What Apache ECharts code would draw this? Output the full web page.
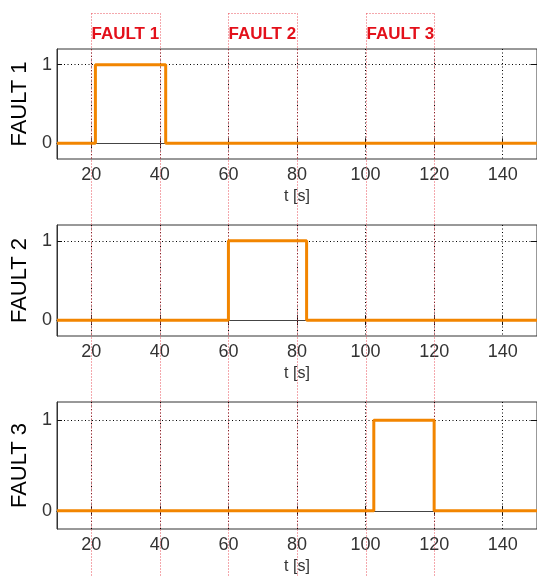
<!DOCTYPE html>
<html><head><meta charset="utf-8">
<script src="https://cdn.jsdelivr.net/npm/echarts@6/dist/echarts.min.js"></script>
<style>html,body{margin:0;padding:0;background:#fff}#c{width:537px;height:577px}</style>
</head><body><div id="c"></div>
<script>
// ---- data ----
const panelNames = ['FAULT 1', 'FAULT 2', 'FAULT 3'];
const fault1T = [10, 21.2, 21.2, 41.7, 41.7, 150];
const fault1V = [0, 0, 1, 1, 0, 0];
const fault2T = [10, 60, 60, 82.8, 82.8, 150];
const fault2V = [0, 0, 1, 1, 0, 0];
const fault3T = [10, 102.4, 102.4, 120, 120, 150];
const fault3V = [0, 0, 1, 1, 0, 0];
const xTicks = [20, 40, 60, 80, 100, 120, 140];
const yTicks = [0, 1];
const faultStart = [20, 60, 100];
const faultEnd = [40, 80, 120];
const faultLabels = ['FAULT 1', 'FAULT 2', 'FAULT 3'];
const xMin = 10, xMax = 150, yMin = -0.2, yMax = 1.2;
const xName = 't [s]';

// ---- layout/style ----
const FONT = 'Liberation Sans, Arial, sans-serif';
const gridPos = [{top: 49, height: 110}, {top: 225, height: 111}, {top: 402, height: 127}];
const series = [[fault1T, fault1V], [fault2T, fault2V], [fault3T, fault3V]];
const dotted = [1, 2.5];

const chart = echarts.init(document.getElementById('c'), null, {renderer: 'canvas'});
const grid = [], xAxis = [], yAxis = [], ser = [];
gridPos.forEach((g, i) => {
  grid.push({left: 57, right: 0, top: g.top, height: g.height, show: true,
    borderColor: '#333', borderWidth: 1, backgroundColor: 'transparent'});
  xAxis.push({type: 'value', gridIndex: i, min: xMin, max: xMax, position: 'bottom',
    axisLine: {show: true, lineStyle: {color: '#333', width: 1}},
    axisTick: {show: true, inside: true, length: 5, customValues: xTicks, lineStyle: {color: '#111'}},
    axisLabel: {show: true, customValues: xTicks, fontSize: 18, color: '#333', margin: 7, fontFamily: FONT},
    splitLine: {show: true, lineStyle: {color: '#000', width: 1, type: dotted}},
    name: xName, nameLocation: 'middle', nameGap: 30,
    nameTextStyle: {fontSize: 16, color: '#333', fontFamily: FONT}});
  xAxis.push({type: 'value', gridIndex: i, min: xMin, max: xMax, position: 'top',
    axisLine: {show: true, lineStyle: {color: '#444', width: 1}},
    axisTick: {show: true, inside: true, length: 5, customValues: xTicks, lineStyle: {color: '#111'}},
    axisLabel: {show: false}, splitLine: {show: false}});
  yAxis.push({type: 'value', gridIndex: i, min: yMin, max: yMax, position: 'left',
    axisLine: {show: true, lineStyle: {color: '#333', width: 1}},
    axisTick: {show: true, inside: true, length: 5, customValues: yTicks, lineStyle: {color: '#111'}},
    axisLabel: {show: true, customValues: yTicks, fontSize: 18, color: '#333', margin: 5, fontFamily: FONT},
    splitLine: {show: true, lineStyle: {color: '#000', width: 1, type: dotted}},
    name: panelNames[i], nameLocation: 'middle', nameGap: 26, nameRotate: 90,
    nameTextStyle: {fontSize: 22, color: '#000', fontFamily: FONT}});
  yAxis.push({type: 'value', gridIndex: i, min: yMin, max: yMax, position: 'right',
    axisLine: {show: false},
    axisTick: {show: true, inside: true, length: 6, customValues: yTicks, lineStyle: {color: '#111'}},
    axisLabel: {show: false}, splitLine: {show: false}});
  const [T, V] = series[i];
  ser.push({type: 'line', xAxisIndex: i * 2, yAxisIndex: i * 2, showSymbol: false, symbol: 'none',
    data: T.map((t, k) => [t, V[k]]), lineStyle: {color: '#f28500', width: 3}, z: 5, animation: false});
});

chart.setOption({animation: false, grid, xAxis, yAxis, series: ser});

// fault windows (red dotted boxes) placed via axis scale
const TOP = 13.5, BOTTOM = 577;
const graphic = [];
faultStart.forEach((s, i) => {
  const x1 = Math.round(chart.convertToPixel({xAxisIndex: 0}, s)) + 0.5;
  const x2 = Math.round(chart.convertToPixel({xAxisIndex: 0}, faultEnd[i])) + 0.5;
  const st = {stroke: '#e8505a', lineWidth: 1, lineDash: [1, 2]};
  graphic.push({type: 'line', z: 1, shape: {x1, y1: TOP, x2, y2: TOP}, style: st, silent: true});
  graphic.push({type: 'line', z: 1, shape: {x1, y1: TOP, x2: x1, y2: BOTTOM}, style: st, silent: true});
  graphic.push({type: 'line', z: 1, shape: {x1: x2, y1: TOP, x2, y2: BOTTOM}, style: st, silent: true});
  graphic.push({type: 'text', z: 3, x: x1, y: 34, silent: true,
    style: {text: faultLabels[i], fill: '#e3101a', font: 'bold 17px ' + FONT,
      textAlign: 'left', textVerticalAlign: 'middle'}});
});
chart.setOption({graphic});
</script></body></html>
